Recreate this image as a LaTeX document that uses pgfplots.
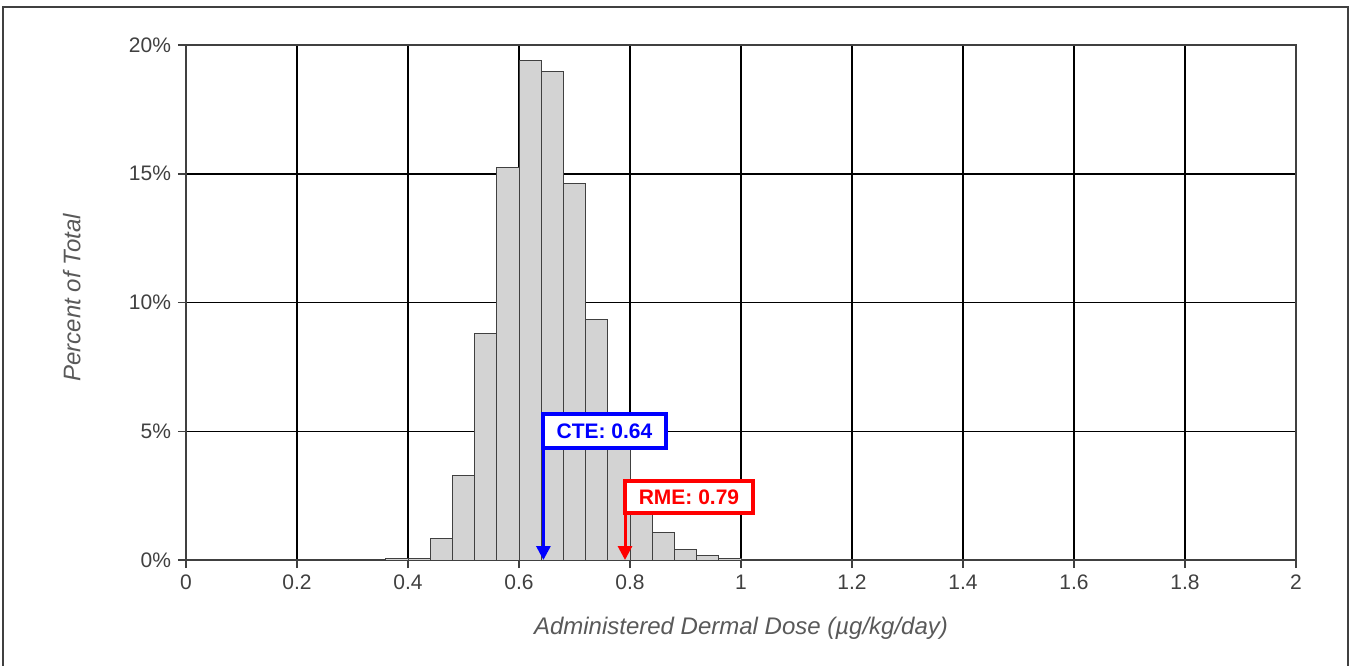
\documentclass[border=0pt]{standalone}
\usepackage{fontspec}
\setmainfont{Liberation Sans}
\usepackage{pgfplots}
\pgfplotsset{compat=1.18}
\usetikzlibrary{arrows.meta}

\definecolor{bargray}{HTML}{D3D3D3}
\definecolor{edgegray}{HTML}{404040}
\definecolor{labgray}{HTML}{595959}
\definecolor{cteblue}{HTML}{0000FF}
\definecolor{rmered}{HTML}{FF0000}

\begin{document}
\begin{tikzpicture}[x=1pt,y=1pt]
  % 1 px of the reference = 0.5pt
  \useasboundingbox (0,0) rectangle (675.5,332.5);
  \draw[edgegray, line width=1pt] (1.5,-5) -- (1.5,329) -- (674,329) -- (674,-5);

  \begin{axis}[
    at={(93pt,52.5pt)}, anchor=south west,
    scale only axis, width=555pt, height=257.5pt,
    xmin=0, xmax=2, ymin=0, ymax=20,
    xtick={0,0.2,0.4,0.6,0.8,1,1.2,1.4,1.6,1.8,2},
    xticklabels={0,0.2,0.4,0.6,0.8,1,1.2,1.4,1.6,1.8,2},
    ytick={0,5,10,15,20},
    yticklabels={0\%,5\%,10\%,15\%,20\%},
    grid=major,
    major grid style={black, line width=0.75pt},
    axis line style={edgegray, line width=0.75pt},
    tick style={edgegray, line width=0.75pt},
    tick align=outside, tick pos=left,
    major tick length=4pt,
    ticklabel style={font=\fontsize{10.5}{12}\selectfont, text=edgegray},
    /pgf/number format/assume math mode=true,
    xlabel={Administered Dermal Dose (µg/kg/day)},
    ylabel={Percent of Total},
    label style={font=\fontsize{12}{14}\selectfont\itshape, text=labgray},
    xlabel style={at={(axis description cs:0.5,-0.132)}, anchor=center},
    ylabel style={at={(axis description cs:-0.103,0.509)}, anchor=center},
    clip=false,
  ]
    \addplot[ybar interval, fill=bargray, draw=edgegray, line width=0.5pt] coordinates {
      (0.36, 0.05)
      (0.40, 0.06)
      (0.44, 0.82)
      (0.48, 3.28)
      (0.52, 8.80)
      (0.56, 15.26)
      (0.60, 19.41)
      (0.64, 18.97)
      (0.68, 14.62)
      (0.72, 9.33)
      (0.76, 5.10)
      (0.80, 2.60)
      (0.84, 1.08)
      (0.88, 0.42)
      (0.92, 0.16)
      (0.96, 0.07)
      (1.00, 0.03)
      (1.04, 0.03)
      (1.08, 0.03)
      (1.12, 0)
    };

    % CTE marker
    \draw[cteblue, line width=1.5pt, -{Triangle[width=7pt,length=7pt]}]
      (axis cs:0.644,4.3) -- (axis cs:0.644,0);
    \node[draw=cteblue, line width=2pt, fill=white, text=cteblue,
          font=\fontsize{10.5}{12}\selectfont\bfseries, inner sep=0pt,
          minimum width=61.5pt, minimum height=17pt, anchor=south west]
      at (axis cs:0.6396,4.27) {CTE: 0.64};

    % RME marker
    \draw[rmered, line width=1.5pt, -{Triangle[width=7pt,length=7pt]}]
      (axis cs:0.791,1.8) -- (axis cs:0.791,0);
    \node[draw=rmered, line width=2pt, fill=white, text=rmered,
          font=\fontsize{10.5}{12}\selectfont\bfseries, inner sep=0pt,
          minimum width=64pt, minimum height=16pt, anchor=south west]
      at (axis cs:0.7874,1.75) {RME: 0.79};
  \end{axis}
\end{tikzpicture}
\end{document}
